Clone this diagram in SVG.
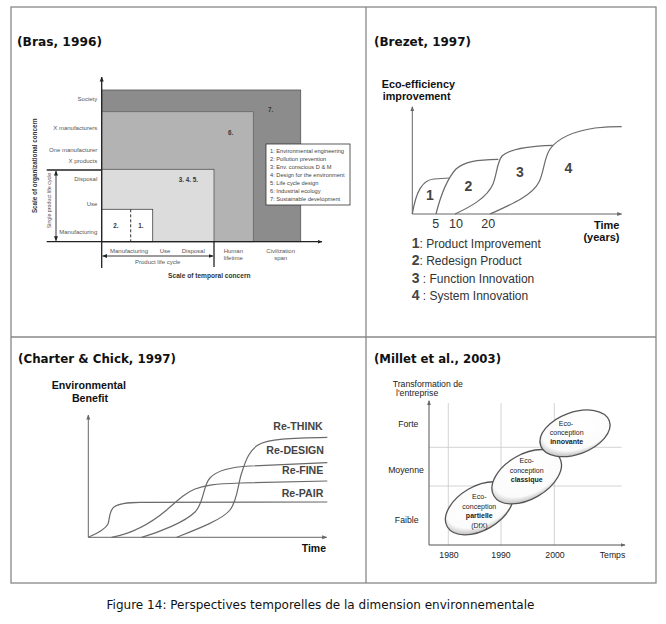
<svg xmlns="http://www.w3.org/2000/svg" width="666" height="624" viewBox="0 0 666 624">
<style>
.title{font-family:"DejaVu Sans",Verdana,sans-serif;font-weight:bold;font-size:12px;fill:#111}
.cap{font-family:"DejaVu Sans",Verdana,sans-serif;font-size:11.5px;fill:#111}
.t6{font-family:"Liberation Sans",Arial,sans-serif;font-size:6px;fill:#555}
.b6{font-family:"Liberation Sans",Arial,sans-serif;font-size:6.3px;font-weight:bold;fill:#333}
.leg{font-family:"Liberation Sans",Arial,sans-serif;font-size:5.7px;fill:#444}
.hb{font-family:"Liberation Sans",Arial,sans-serif;font-weight:bold;fill:#111}
.num{font-family:"Liberation Sans",Arial,sans-serif;font-weight:bold;font-size:14px;fill:#444}
.lt{font-family:"Liberation Sans",Arial,sans-serif;font-size:12px;fill:#333}
.re{font-family:"Liberation Sans",Arial,sans-serif;font-weight:bold;font-size:10.6px;fill:#444}
.m8{font-family:"Liberation Sans",Arial,sans-serif;font-size:8.7px;fill:#222}
.el{font-family:"Liberation Sans",Arial,sans-serif;font-size:7px;fill:#222}
.grid{stroke:#c8c8c8;stroke-width:0.8;fill:none}
.ax{stroke:#222;stroke-width:1.3;fill:none}
.ax2{stroke:#666;stroke-width:1;fill:none}
.crv{stroke:#6a6a6a;stroke-width:1.2;fill:none}
.frame{stroke:#888;stroke-width:1.3;fill:none}
.ell{fill:url(#eg);stroke:#555;stroke-width:1.3}
</style>
<defs>
<marker id="ah" viewBox="0 0 10 10" refX="9" refY="5" markerWidth="5" markerHeight="5" orient="auto-start-reverse" markerUnits="userSpaceOnUse">
<path d="M0,1 L10,5 L0,9 Z" fill="#222"/>
</marker>
<marker id="ag" viewBox="0 0 10 10" refX="9" refY="5" markerWidth="5" markerHeight="5" orient="auto-start-reverse" markerUnits="userSpaceOnUse">
<path d="M0,1 L10,5 L0,9 Z" fill="#666"/>
</marker>
<radialGradient id="eg" cx="0.58" cy="0.38" r="0.66">
<stop offset="0" stop-color="#ffffff"/>
<stop offset="0.78" stop-color="#fbfbfb"/>
<stop offset="1" stop-color="#b8b8b8"/>
</radialGradient>
</defs>

<g id="table">
<rect class="frame" x="11" y="7" width="645" height="576"/>
<line class="frame" x1="366" y1="7" x2="366" y2="583"/>
<line class="frame" x1="11" y1="337" x2="656" y2="337"/>
</g>

<g id="titles">
<text class="title" x="17" y="46" textLength="85" lengthAdjust="spacingAndGlyphs">(Bras, 1996)</text>
<text class="title" x="374" y="46" textLength="97" lengthAdjust="spacingAndGlyphs">(Brezet, 1997)</text>
<text class="title" x="18" y="363" textLength="158" lengthAdjust="spacingAndGlyphs">(Charter &amp; Chick, 1997)</text>
<text class="title" x="374" y="363" textLength="127" lengthAdjust="spacingAndGlyphs">(Millet et al., 2003)</text>
</g>

<!-- Bras 1996 -->
<g id="bras">
<g id="bras-regions">
<rect x="101.7" y="90" width="199" height="151.7" fill="#8c8c8c" stroke="#555" stroke-width="0.8"/>
<rect x="101.7" y="111.7" width="151.6" height="130" fill="#b3b3b3" stroke="#666" stroke-width="0.8"/>
<rect x="101.7" y="169.3" width="112.3" height="72.4" fill="#dcdcdc" stroke="#555" stroke-width="0.8"/>
<rect x="101.7" y="209.3" width="51" height="32.4" fill="#ffffff" stroke="#444" stroke-width="0.8"/>
<line x1="130.7" y1="209.3" x2="130.7" y2="241.7" stroke="#333" stroke-width="1" stroke-dasharray="3,2"/>
<text class="b6" x="270.7" y="112" text-anchor="middle">7.</text>
<text class="b6" x="230.7" y="134.5" text-anchor="middle">6.</text>
<text class="b6" x="188.3" y="182" text-anchor="middle">3. 4. 5.</text>
<text class="b6" x="116" y="228" text-anchor="middle">2.</text>
<text class="b6" x="141" y="228" text-anchor="middle">1.</text>
</g>
<g id="bras-legend">
<rect x="266" y="144" width="84" height="61" fill="#fff" stroke="#333" stroke-width="0.8"/>
<text class="leg" x="270" y="152.5">1: Environmental engineering</text>
<text class="leg" x="270" y="160.6">2: Pollution prevention</text>
<text class="leg" x="270" y="168.7">3: Env. conscious D &amp; M</text>
<text class="leg" x="270" y="176.8">4: Design for the environment</text>
<text class="leg" x="270" y="184.9">5: Life cycle design</text>
<text class="leg" x="270" y="193">6: Industrial ecology</text>
<text class="leg" x="270" y="201.1">7: Sustainable development</text>
</g>
<g id="bras-axes">
<line class="ax" x1="101.7" y1="268" x2="101.7" y2="77" marker-end="url(#ah)"/>
<line class="ax" x1="46.7" y1="241.7" x2="322" y2="241.7" marker-end="url(#ah)"/>
<line class="ax" x1="46.7" y1="170" x2="101.7" y2="170"/>
<line class="ax" x1="214" y1="241.7" x2="214" y2="267"/>
<line x1="56" y1="171" x2="56" y2="240.7" stroke="#222" stroke-width="0.9" marker-start="url(#ah)" marker-end="url(#ah)"/>
<line x1="102.7" y1="256" x2="213" y2="256" stroke="#222" stroke-width="0.9" marker-start="url(#ah)" marker-end="url(#ah)"/>
</g>
<g id="bras-labels">
<text class="t6" x="97.3" y="101" text-anchor="end">Society</text>
<text class="t6" x="97.3" y="130" text-anchor="end">X manufacturers</text>
<text class="t6" x="97.3" y="152" text-anchor="end">One manufacturer</text>
<text class="t6" x="97.3" y="163" text-anchor="end">X products</text>
<text class="t6" x="97.3" y="181" text-anchor="end">Disposal</text>
<text class="t6" x="97.3" y="206" text-anchor="end">Use</text>
<text class="t6" x="97.3" y="234" text-anchor="end">Manufacturing</text>
<text class="b6" transform="translate(37.2,165.7) rotate(-90)" text-anchor="middle">Scale of organizational concern</text>
<text class="t6" style="font-size:5.3px" transform="translate(51,200.5) rotate(-90)" text-anchor="middle">Single product life cycle</text>
<text class="t6" x="129" y="252.7" text-anchor="middle">Manufacturing</text>
<text class="t6" x="165" y="252.7" text-anchor="middle">Use</text>
<text class="t6" x="193.3" y="252.7" text-anchor="middle">Disposal</text>
<text class="t6" x="157.7" y="264.3" text-anchor="middle">Product life cycle</text>
<text class="t6" x="233.3" y="253" text-anchor="middle">Human</text>
<text class="t6" x="233.3" y="260.3" text-anchor="middle">lifetime</text>
<text class="t6" x="280.7" y="253" text-anchor="middle">Civilization</text>
<text class="t6" x="280.7" y="260.3" text-anchor="middle">span</text>
<text class="b6" style="font-size:6.6px" x="209.3" y="278" text-anchor="middle">Scale of temporal concern</text>
</g>
</g>

<!-- Brezet 1997 -->
<g id="brezet">
<text class="hb" style="font-size:10.8px" x="381.7" y="87.5">Eco-efficiency</text>
<text class="hb" style="font-size:10.8px" x="382.7" y="99.5">improvement</text>
<g id="brezet-axes">
<line class="ax2" x1="412.3" y1="214" x2="412.3" y2="106.7" marker-end="url(#ag)"/>
<line class="ax2" x1="412.3" y1="214" x2="621.7" y2="214" marker-end="url(#ag)"/>
</g>
<g id="brezet-curves">
<path class="crv" d="M412.3,214 C416,192 422,180 434,179 L449.3,178"/>
<path class="crv" d="M436,214 C440,198 446,180 456,169 C464,162 476,159.5 498.3,159.3"/>
<path class="crv" d="M455,214 C470,207 487,198 493,184 C497,174 497,162 502,156 C510,148 530,146 552.7,145.3"/>
<path class="crv" d="M490,214 C510,205 532,196 539,182 C544,172 544,158 550,149 C558,138 575,131 595,128 C605,127 615,126.7 621.7,126.7"/>
</g>
<text class="num" x="430" y="200" text-anchor="middle">1</text>
<text class="num" x="468.3" y="190.7" text-anchor="middle">2</text>
<text class="num" x="520" y="177.3" text-anchor="middle">3</text>
<text class="num" x="568.3" y="172.7" text-anchor="middle">4</text>
<text class="lt" style="font-size:12.5px" x="435.7" y="227.7" text-anchor="middle">5</text>
<text class="lt" style="font-size:12.5px" x="456" y="227.7" text-anchor="middle">10</text>
<text class="lt" style="font-size:12.5px" x="488.3" y="227.7" text-anchor="middle">20</text>
<text class="hb" style="font-size:11px" x="619.5" y="228.5" text-anchor="end">Time</text>
<text class="hb" style="font-size:11px" x="619.5" y="240.5" text-anchor="end">(years)</text>
<g id="brezet-legend">
<text class="lt" x="411.7" y="247.6"><tspan class="num">1</tspan>: Product Improvement</text>
<text class="lt" x="411.7" y="265"><tspan class="num">2</tspan>: Redesign Product</text>
<text class="lt" x="411.7" y="282.6"><tspan class="num">3</tspan> : Function Innovation</text>
<text class="lt" x="411.7" y="300.3"><tspan class="num">4</tspan> : System Innovation</text>
</g>
</g>

<!-- Charter & Chick 1997 -->
<g id="charter">
<text class="hb" style="font-size:10.7px" x="51.7" y="389.3">Environmental</text>
<text class="hb" style="font-size:10.7px" x="90" y="402" text-anchor="middle">Benefit</text>
<g id="charter-axes">
<line class="ax2" x1="88.3" y1="537.3" x2="88.3" y2="415" marker-end="url(#ag)"/>
<line class="ax2" x1="88.3" y1="537.3" x2="326.7" y2="537.3" marker-end="url(#ag)"/>
</g>
<g id="charter-curves">
<path class="crv" d="M88.3,537.3 C96,534 105,530 108,524 C110,518 109,511 114,507 C119,503 128,502.5 140,502.3 L327.3,502"/>
<path class="crv" d="M111.7,537.3 C130,534 150,524 166.7,510 C178,500 185,493 195,489 C205,485 215,484 240,483 L327.3,481"/>
<path class="crv" d="M141.7,537.3 C160,532 185,522 195,512 C204,503 203,485 210,478 C217,470 230,467 250,466 L327.3,462.7"/>
<path class="crv" d="M176.7,537.3 C195,530 222,520 230,510 C238,500 238,482 242,472 C246,459 250,450 258,445 C268,439 290,438 327.3,437.3"/>
</g>
<text class="re" x="322.7" y="430" text-anchor="end">Re-THINK</text>
<text class="re" x="324" y="454.3" text-anchor="end">Re-DESIGN</text>
<text class="re" x="323.3" y="474" text-anchor="end">Re-FINE</text>
<text class="re" x="323.3" y="496.7" text-anchor="end">Re-PAIR</text>
<text class="hb" style="font-size:10.5px" x="326" y="551.7" text-anchor="end">Time</text>
</g>

<!-- Millet et al. 2003 -->
<g id="millet">
<text class="m8" x="392.7" y="387">Transformation de</text>
<text class="m8" x="396" y="396">l'entreprise</text>
<g id="millet-grid">
<line class="grid" x1="448.3" y1="403" x2="448.3" y2="545"/>
<line class="grid" x1="501" y1="403" x2="501" y2="545"/>
<line class="grid" x1="554.3" y1="403" x2="554.3" y2="545"/>
<line class="grid" x1="429" y1="447.3" x2="621.7" y2="447.3"/>
<line class="grid" x1="429" y1="486" x2="621.7" y2="486"/>
</g>
<g id="millet-axes">
<line x1="429" y1="545" x2="429" y2="400.7" stroke="#555" stroke-width="1" marker-end="url(#ag)"/>
<line x1="429" y1="545" x2="625" y2="545" stroke="#555" stroke-width="1" marker-end="url(#ag)"/>
</g>
<text class="m8" x="408.3" y="426.5" text-anchor="middle">Forte</text>
<text class="m8" x="406" y="473" text-anchor="middle">Moyenne</text>
<text class="m8" x="406.7" y="522.7" text-anchor="middle">Faible</text>
<text class="m8" x="449" y="558.3" text-anchor="middle">1980</text>
<text class="m8" x="501" y="558.3" text-anchor="middle">1990</text>
<text class="m8" x="555" y="558.3" text-anchor="middle">2000</text>
<text class="m8" x="612.5" y="558.3" text-anchor="middle">Temps</text>
<g id="node-partielle">
<ellipse class="ell" cx="479.3" cy="508.3" rx="37" ry="22" transform="rotate(-30 479.3 508.3)"/>
<text class="el" x="479.3" y="499.2" text-anchor="middle">Eco-</text>
<text class="el" x="479.3" y="508.5" text-anchor="middle">conception</text>
<text class="el" x="479.3" y="518.2" text-anchor="middle" font-weight="bold">partielle</text>
<text class="el" x="479.3" y="527.5" text-anchor="middle">(DfX)</text>
</g>
<g id="node-classique">
<ellipse class="ell" cx="526.7" cy="476.7" rx="38" ry="22.5" transform="rotate(-30 526.7 476.7)"/>
<text class="el" x="526.7" y="463.2" text-anchor="middle">Eco-</text>
<text class="el" x="526.7" y="472.5" text-anchor="middle">conception</text>
<text class="el" x="526.7" y="481.8" text-anchor="middle" font-weight="bold">classique</text>
</g>
<g id="node-innovante">
<ellipse class="ell" cx="575" cy="433.3" rx="36.5" ry="21" transform="rotate(-20 575 433.3)"/>
<text class="el" x="566" y="425.8" text-anchor="middle">Eco-</text>
<text class="el" x="566.7" y="435.2" text-anchor="middle">conception</text>
<text class="el" x="566.7" y="444.2" text-anchor="middle" font-weight="bold">innovante</text>
</g>
</g>

<text class="cap" x="106.5" y="609" textLength="428" lengthAdjust="spacingAndGlyphs">Figure 14: Perspectives temporelles de la dimension environnementale</text>
</svg>
